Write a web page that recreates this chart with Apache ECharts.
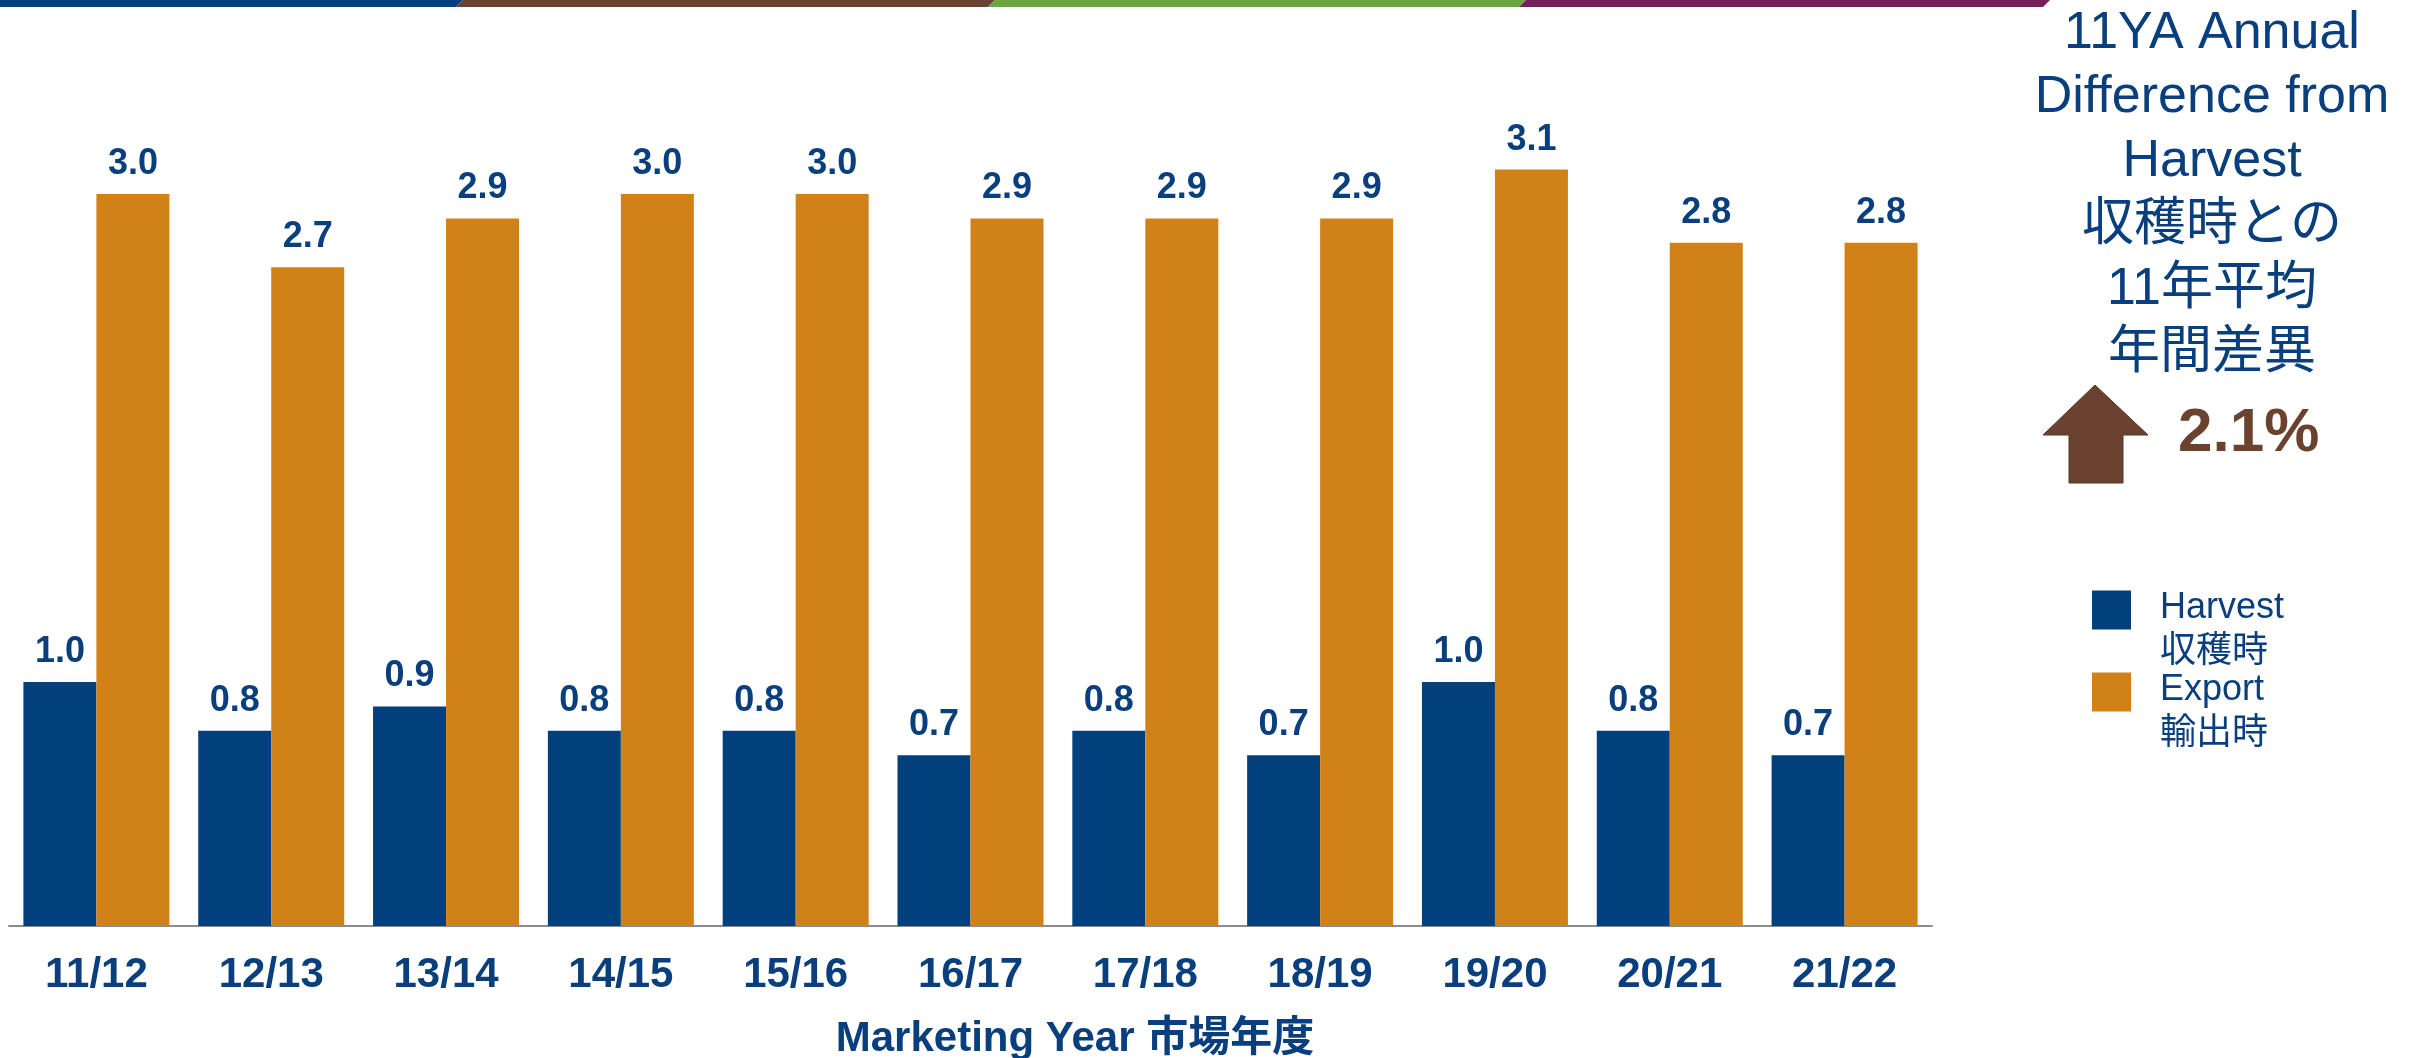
<!DOCTYPE html>
<html>
<head>
<meta charset="utf-8">
<script src="https://cdn.jsdelivr.net/npm/echarts@6/dist/echarts.min.js"></script>
<style>
  html, body { margin: 0; padding: 0; background: #fff; }
  #chart { width: 2412px; height: 1058px; }
</style>
</head>
<body>
<div id="chart"></div>
<script>
// marketing years
const years = ['11/12', '12/13', '13/14', '14/15', '15/16', '16/17', '17/18', '18/19', '19/20', '20/21', '21/22']
// values
const harvest = [1.0, 0.8, 0.9, 0.8, 0.8, 0.7, 0.8, 0.7, 1.0, 0.8, 0.7]
const exportVals = [3.0, 2.7, 2.9, 3.0, 3.0, 2.9, 2.9, 2.9, 3.1, 2.8, 2.8]
const seriesNames = ['Harvest\n収穫時', 'Export\n輸出時']
const sideLines = ['11YA Annual', 'Difference from', 'Harvest', '収穫時との', '11年平均', '年間差異']
const changeText = '2.1%'

const BLUE = '#023f7d'
const ORANGE = '#d08218'
const TEXT_BLUE = '#0a3f7e'
const BROWN = '#6b4130'
const FONT = "'Liberation Sans', Arial, 'Noto Sans CJK JP', sans-serif"

const chart = echarts.init(document.getElementById('chart'))

// top colour stripe
const stripe = [
  { x0: -5, x1: 463, c: '#003f7f' },
  { x0: 463, x1: 995, c: '#6b4232' },
  { x0: 995, x1: 1526, c: '#6ba543' },
  { x0: 1526, x1: 2050, c: '#73205a' }
]

const graphics = stripe.map(s => ({
  type: 'polygon',
  shape: { points: [[s.x0, 0], [s.x1, 0], [s.x1 - 7, 7], [s.x0 - 7, 7]] },
  style: { fill: s.c }
}))

graphics.push({
  type: 'text',
  x: 2212,
  y: 2,
  style: {
    text: sideLines.join('\n'),
    fill: TEXT_BLUE,
    font: '52px ' + FONT,
    lineHeight: 64,
    align: 'center',
    verticalAlign: 'top'
  }
})

// up arrow
graphics.push({
  type: 'polygon',
  shape: {
    points: [[2095, 385], [2148, 435], [2123, 435], [2123, 483], [2069, 483], [2069, 435], [2043, 435]]
  },
  style: { fill: BROWN, stroke: '#5a3526', lineWidth: 1 }
})
graphics.push({
  type: 'text',
  x: 2178,
  y: 434,
  style: {
    text: changeText,
    fill: BROWN,
    font: 'bold 62px ' + FONT,
    verticalAlign: 'middle'
  }
})
graphics.push({
  type: 'text',
  x: 1075,
  y: 1039,
  style: {
    text: 'Marketing Year 市場年度',
    fill: TEXT_BLUE,
    font: 'bold 42px ' + FONT,
    align: 'center',
    verticalAlign: 'middle'
  }
})

const barLabel = {
  show: true,
  position: 'top',
  distance: 12,
  color: TEXT_BLUE,
  fontSize: 36,
  fontWeight: 'bold',
  formatter: p => p.value.toFixed(1)
}

const option = {
  animation: false,
  backgroundColor: '#fff',
  textStyle: { fontFamily: FONT },
  grid: { left: 9, right: 480, top: 72, bottom: 132, containLabel: false },
  legend: {
    orient: 'vertical',
    left: 2087,
    top: 541,
    itemWidth: 39,
    itemHeight: 39,
    itemGap: -42,
    icon: 'rect',
    data: seriesNames,
    // empty first line pushes the two text lines down next to the square
    formatter: name => '{pad|}\n' + name.split('\n').map(s => '{t|' + s + '}').join('\n'),
    textStyle: {
      color: TEXT_BLUE,
      fontSize: 36,
      rich: {
        pad: { height: 40, lineHeight: 40 },
        t: { color: TEXT_BLUE, fontSize: 36, lineHeight: 44, padding: [0, 0, 0, 24] }
      }
    }
  },
  xAxis: {
    type: 'category',
    data: years,
    axisLine: { lineStyle: { color: '#8c8c8c', width: 2 } },
    axisTick: { show: false },
    axisLabel: {
      color: TEXT_BLUE,
      fontSize: 42,
      fontWeight: 'bold',
      margin: 28
    }
  },
  yAxis: {
    type: 'value',
    min: 0,
    max: 3.5,
    show: false,
    splitLine: { show: false }
  },
  series: [
    {
      name: seriesNames[0],
      type: 'bar',
      data: harvest,
      barWidth: 73,
      barGap: '0%',
      itemStyle: { color: BLUE },
      label: barLabel
    },
    {
      name: seriesNames[1],
      type: 'bar',
      data: exportVals,
      barWidth: 73,
      barGap: '0%',
      itemStyle: { color: ORANGE },
      label: barLabel
    }
  ],
  graphic: graphics
}

chart.setOption(option)
</script>
</body>
</html>
